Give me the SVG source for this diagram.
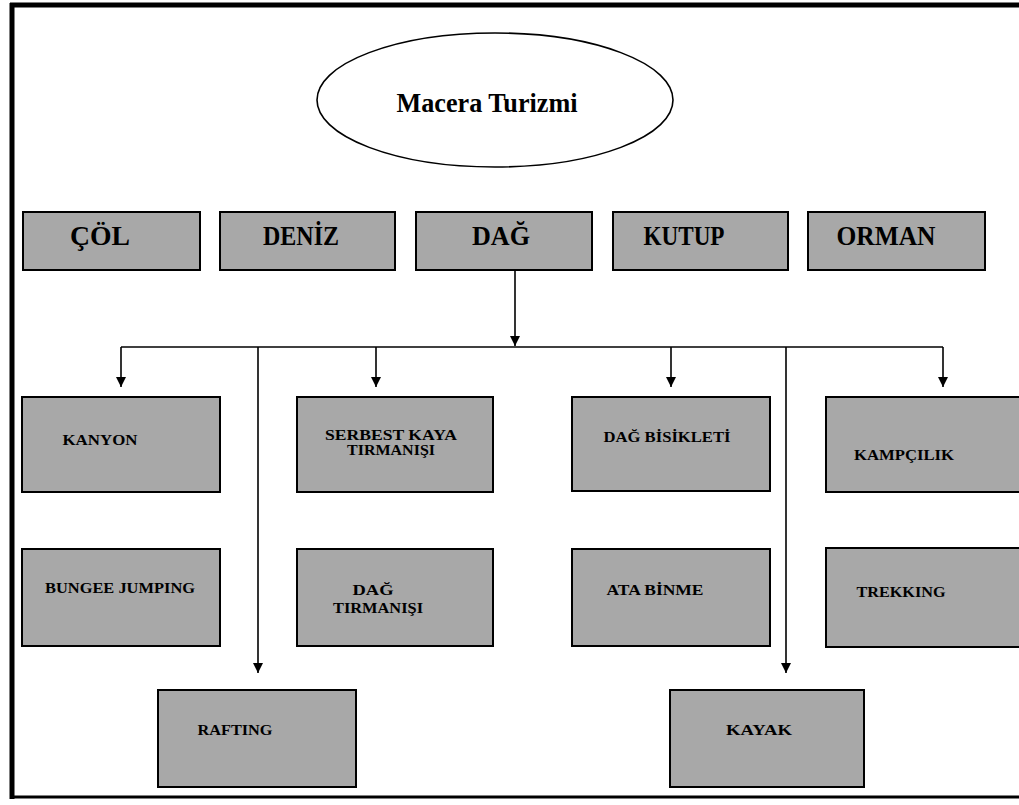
<svg xmlns="http://www.w3.org/2000/svg" width="1019" height="805" viewBox="0 0 1019 805">
<style>
.frame{stroke:#000;fill:none}
.box{fill:#a8a8a8;stroke:#000;stroke-width:2}
.t1{font-family:"Liberation Serif",serif;font-weight:bold;font-size:27px;fill:#000;text-anchor:middle}
.t2{font-family:"Liberation Serif",serif;font-weight:bold;font-size:14px;fill:#000;text-anchor:middle}
.title{font-family:"Liberation Serif",serif;font-weight:bold;font-size:28px;fill:#000;text-anchor:middle}
.c{stroke:#000;stroke-width:1.6;fill:none}
</style>
<defs>
<marker id="ah" viewBox="0 0 10 10" refX="10" refY="5" markerWidth="6.5" markerHeight="6.5" orient="auto" markerUnits="strokeWidth">
<path d="M0,0 L10,5 L0,10 z" fill="#000"/>
</marker>
</defs>
<rect width="1019" height="805" fill="#fff"/>
<g id="frame">
<line class="frame" x1="10" y1="5" x2="1019" y2="5" stroke-width="5"/>
<line class="frame" x1="12" y1="3" x2="12" y2="799" stroke-width="5"/>
<line class="frame" x1="10" y1="797" x2="1019" y2="797" stroke-width="3"/>
</g>
<g id="connectors">
<path class="c" d="M515,270 V346" marker-end="url(#ah)"/>
<path class="c" d="M121,347 H943"/>
<path class="c" d="M121,347 V387" marker-end="url(#ah)"/>
<path class="c" d="M376,347 V387" marker-end="url(#ah)"/>
<path class="c" d="M671,347 V387" marker-end="url(#ah)"/>
<path class="c" d="M943,347 V387" marker-end="url(#ah)"/>
<path class="c" d="M258,347 V673" marker-end="url(#ah)"/>
<path class="c" d="M786,347 V673" marker-end="url(#ah)"/>
</g>
<g id="macera">
<ellipse cx="495" cy="100" rx="178" ry="67" fill="#fff" stroke="#000" stroke-width="1.6"/>
<text class="title" x="487" y="112" textLength="181" lengthAdjust="spacingAndGlyphs">Macera Turizmi</text>
</g>
<g id="col"><rect class="box" x="23" y="212" width="177" height="58"/><text class="t1" x="100" y="245" textLength="60" lengthAdjust="spacingAndGlyphs">ÇÖL</text></g>
<g id="deniz"><rect class="box" x="220" y="212" width="175" height="58"/><text class="t1" x="301" y="245" textLength="76" lengthAdjust="spacingAndGlyphs">DENİZ</text></g>
<g id="dag"><rect class="box" x="416" y="212" width="176" height="58"/><text class="t1" x="501" y="245" textLength="58" lengthAdjust="spacingAndGlyphs">DAĞ</text></g>
<g id="kutup"><rect class="box" x="613" y="212" width="175" height="58"/><text class="t1" x="684" y="245" textLength="81" lengthAdjust="spacingAndGlyphs">KUTUP</text></g>
<g id="orman"><rect class="box" x="808" y="212" width="177" height="58"/><text class="t1" x="886" y="245" textLength="99" lengthAdjust="spacingAndGlyphs">ORMAN</text></g>
<g id="kanyon"><rect class="box" x="22" y="397" width="198" height="95"/><text class="t2" x="100" y="445" textLength="75" lengthAdjust="spacingAndGlyphs">KANYON</text></g>
<g id="serbest"><rect class="box" x="297" y="397" width="196" height="95"/><text class="t2" x="391" y="440" textLength="132" lengthAdjust="spacingAndGlyphs">SERBEST KAYA</text><text class="t2" x="391" y="455" textLength="88" lengthAdjust="spacingAndGlyphs">TIRMANIŞI</text></g>
<g id="bisiklet"><rect class="box" x="572" y="397" width="198" height="94"/><text class="t2" x="667" y="442" textLength="127" lengthAdjust="spacingAndGlyphs">DAĞ BİSİKLETİ</text></g>
<g id="kampcilik"><rect class="box" x="826" y="397" width="200" height="95"/><text class="t2" x="904" y="460" textLength="100" lengthAdjust="spacingAndGlyphs">KAMPÇILIK</text></g>
<g id="bungee"><rect class="box" x="22" y="549" width="198" height="97"/><text class="t2" x="120" y="593" textLength="150" lengthAdjust="spacingAndGlyphs">BUNGEE JUMPING</text></g>
<g id="dagtirmanisi"><rect class="box" x="297" y="549" width="196" height="97"/><text class="t2" x="373" y="595" textLength="41" lengthAdjust="spacingAndGlyphs">DAĞ</text><text class="t2" x="378" y="613" textLength="90" lengthAdjust="spacingAndGlyphs">TIRMANIŞI</text></g>
<g id="atabinme"><rect class="box" x="572" y="549" width="198" height="97"/><text class="t2" x="655" y="595" textLength="97" lengthAdjust="spacingAndGlyphs">ATA BİNME</text></g>
<g id="trekking"><rect class="box" x="826" y="548" width="200" height="99"/><text class="t2" x="901" y="597" textLength="89" lengthAdjust="spacingAndGlyphs">TREKKING</text></g>
<g id="rafting"><rect class="box" x="158" y="690" width="198" height="97"/><text class="t2" x="235" y="735" textLength="75" lengthAdjust="spacingAndGlyphs">RAFTING</text></g>
<g id="kayak"><rect class="box" x="670" y="690" width="194" height="97"/><text class="t2" x="759" y="735" textLength="66" lengthAdjust="spacingAndGlyphs">KAYAK</text></g>
</svg>
